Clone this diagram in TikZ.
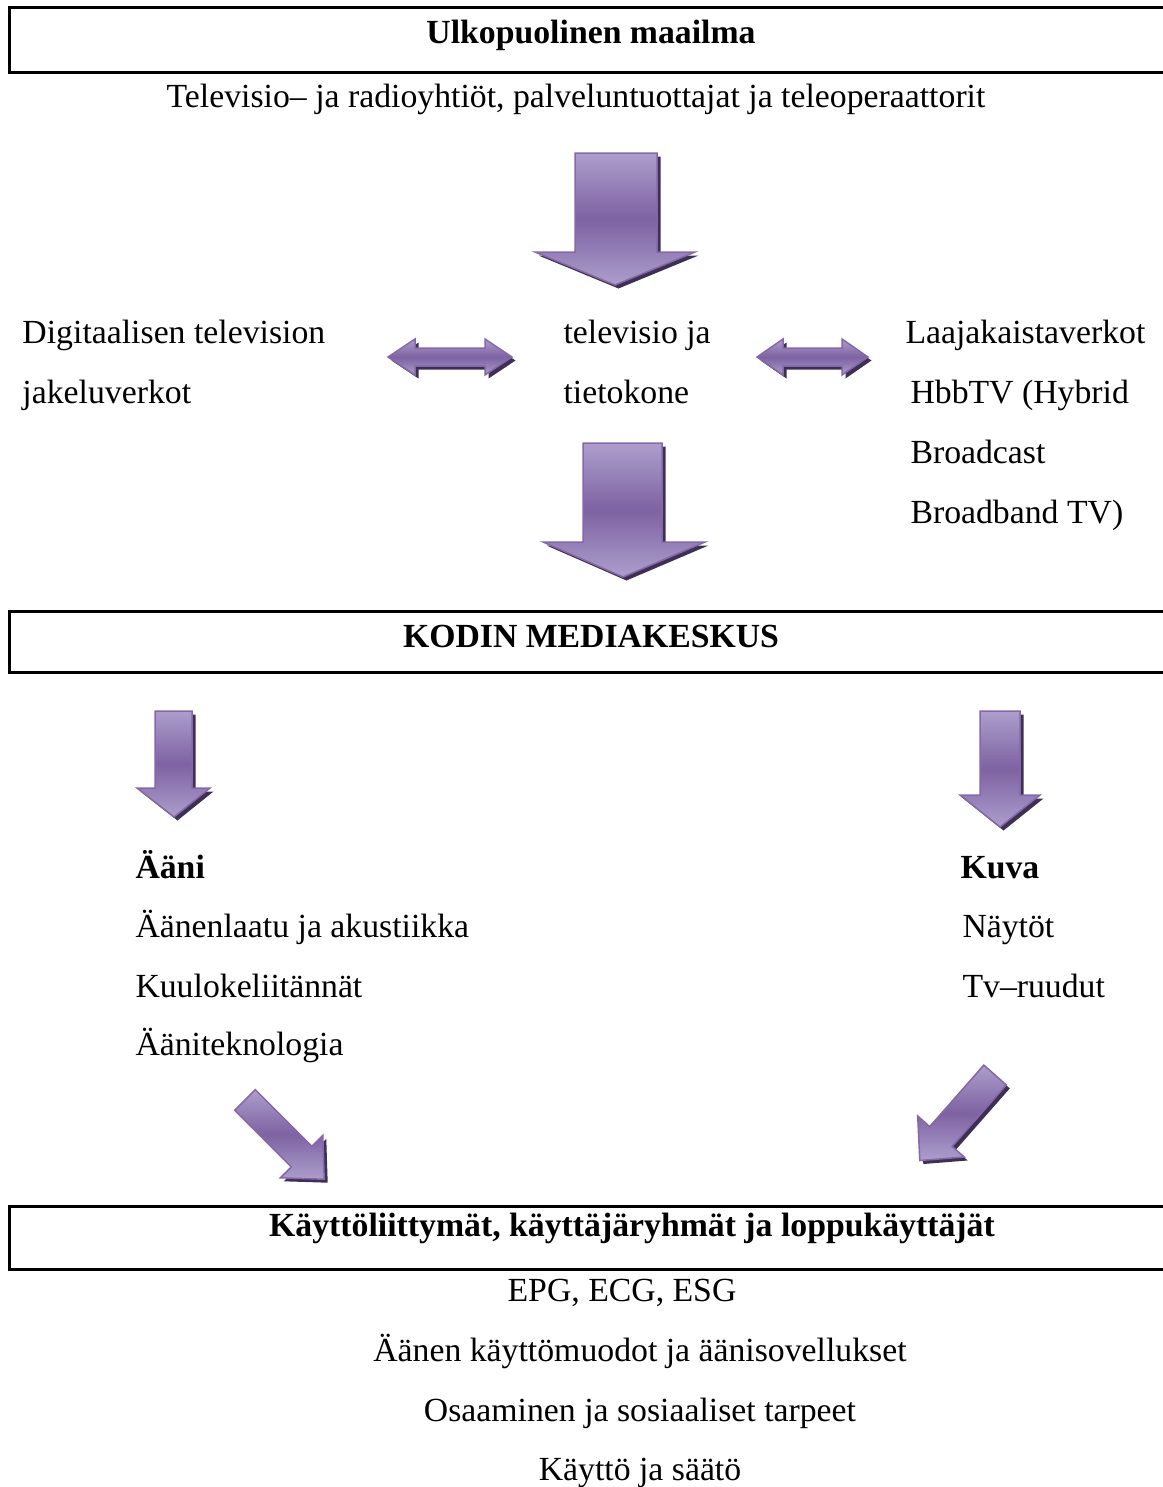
\documentclass[tikz,border=0pt]{standalone}
\usepackage{fontspec}
\setmainfont{Liberation Serif}
\usetikzlibrary{shadows}
\definecolor{arrowlight}{RGB}{172,158,204}
\definecolor{arrowdark}{RGB}{126,98,162}
\definecolor{arrowedge}{RGB}{132,104,170}
\definecolor{arrowshadow}{RGB}{62,48,82}
\tikzset{
  blockarrow/.style={draw=arrowedge, line width=0.6pt, top color=arrowlight,
    bottom color=arrowlight, middle color=arrowdark,
    drop shadow={shadow xshift=1.4pt, shadow yshift=-1.4pt, fill=arrowshadow, opacity=1}},
  framebox/.style={line width=1.2pt},
  txt/.style={anchor=base west, inner sep=0pt, font=\fontsize{13.5}{16}\selectfont},
  ctxt/.style={txt, anchor=base},
  btxt/.style={ctxt, font=\fontsize{13.5}{16}\selectfont\bfseries},
}
\begin{document}
\begin{tikzpicture}[x=0.4pt, y=-0.4pt]
    \useasboundingbox (0, 0) rectangle (1163, 1487);
    % outside world
    \draw [framebox] (1180, 7) -- (9, 7) -- (9, 72) -- (1180, 72);
    \node [btxt] (world) at (591, 43) {Ulkopuolinen maailma};
    \node [ctxt] (broadcasters) at (576, 107) {Televisio– ja radioyhtiöt, palveluntuottajat ja teleoperaattorit};
    %
    \path [blockarrow] (575, 153) -- (657, 153) -- (657, 252) -- (695, 252) -- (615, 285)
      -- (535, 252) -- (575, 252) -- cycle;
    %
    \node [txt] (dtv1) at (22, 343) {Digitaalisen television};
    \node [txt] (dtv2) at (22, 403) {jakeluverkot};
    \node [txt] (tv1) at (563, 343) {televisio ja};
    \node [txt] (tv2) at (563, 403) {tietokone};
    \node [txt] (bb1) at (905, 343) {Laajakaistaverkot};
    \node [txt] (bb2) at (910, 403) {HbbTV (Hybrid};
    \node [txt] (bb3) at (910, 463) {Broadcast};
    \node [txt] (bb4) at (910, 523) {Broadband TV)};
    %
    \path [blockarrow] (388, 357) -- (415, 339) -- (415, 348) -- (485, 348) -- (485, 339)
      -- (512, 357) -- (485, 375) -- (485, 366) -- (415, 366) -- (415, 375) -- cycle;
    \path [blockarrow] (757, 357) -- (783, 339) -- (783, 348) -- (842, 348) -- (842, 339)
      -- (868, 357) -- (842, 375) -- (842, 366) -- (783, 366) -- (783, 375) -- cycle;
    %
    \path [blockarrow] (583, 443) -- (662, 443) -- (662, 542) -- (705, 542) -- (623, 577)
      -- (543, 542) -- (583, 542) -- cycle;
    % home media centre
    \draw [framebox] (1180, 611) -- (9, 611) -- (9, 672) -- (1180, 672);
    \node [btxt] (centre) at (591, 647) {KODIN MEDIAKESKUS};
    %
    \path [blockarrow] (155, 711) -- (192, 711) -- (192, 788) -- (210, 788) -- (174, 817)
      -- (137, 788) -- (155, 788) -- cycle;
    \path [blockarrow] (980, 711) -- (1020, 711) -- (1020, 795) -- (1040, 795) -- (1000, 827)
      -- (960, 795) -- (980, 795) -- cycle;
    %
    \node [txt, font=\fontsize{13.5}{16}\selectfont\bfseries] (sound) at (135, 878) {Ääni};
    \node [txt] (sound1) at (135, 937) {Äänenlaatu ja akustiikka};
    \node [txt] (sound2) at (135, 997) {Kuulokeliitännät};
    \node [txt] (sound3) at (135, 1055) {Ääniteknologia};
    \node [txt, font=\fontsize{13.5}{16}\selectfont\bfseries] (image) at (960, 878) {Kuva};
    \node [txt] (image1) at (962, 937) {Näytöt};
    \node [txt] (image2) at (962, 997) {Tv–ruudut};
    %
    \path [blockarrow] (255.3, 1089.7) -- (311.9, 1146.3) -- (322.8, 1135.4) -- (324.2, 1179.2)
      -- (280.4, 1177.8) -- (291.3, 1166.9) -- (234.7, 1110.3) -- cycle;
    \path [blockarrow] (1006.3, 1084.9) -- (952.2, 1146.4) -- (964.2, 1157.0) -- (919.8, 1160.5)
      -- (917.7, 1116.0) -- (929.7, 1126.6) -- (983.8, 1065.1) -- cycle;
    % users
    \draw [framebox] (1180, 1206) -- (9, 1206) -- (9, 1269) -- (1180, 1269);
    \node [btxt] (users) at (632, 1236) {Käyttöliittymät, käyttäjäryhmät ja loppukäyttäjät};
    \node [ctxt] (users1) at (622, 1301) {EPG, ECG, ESG};
    \node [ctxt] (users2) at (640, 1361) {Äänen käyttömuodot ja äänisovellukset};
    \node [ctxt] (users3) at (640, 1421) {Osaaminen ja sosiaaliset tarpeet};
    \node [ctxt] (users4) at (640, 1480) {Käyttö ja säätö};
  \end{tikzpicture}
\end{document}
